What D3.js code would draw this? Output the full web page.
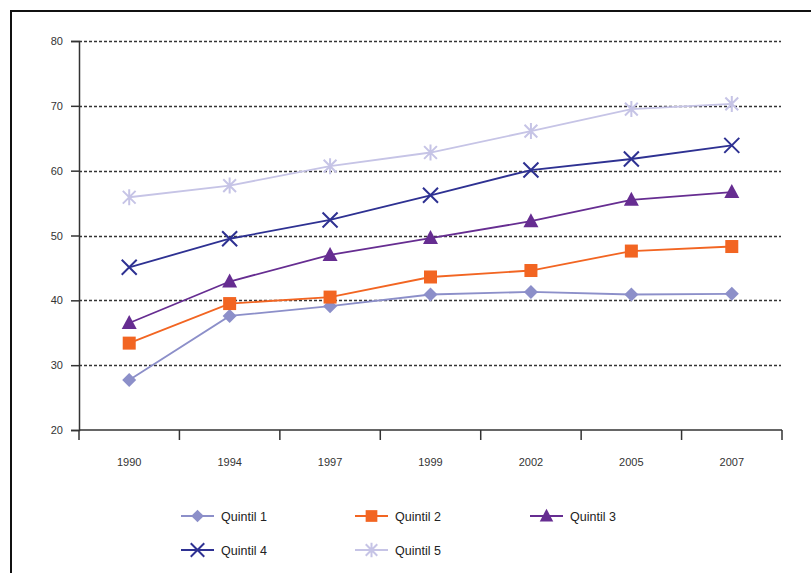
<!DOCTYPE html>
<html>
<head>
<meta charset="utf-8">
<script src="https://cdn.jsdelivr.net/npm/d3@7"></script>
<style>
  html, body { margin: 0; padding: 0; background: #fff; }
  svg { display: block; font-family: "Liberation Sans", Arial, sans-serif; }
</style>
</head>
<body>
<svg id="chart" width="811" height="573"></svg>
<script>
// Survey years on the horizontal axis
const years = ["1990", "1994", "1997", "1999", "2002", "2005", "2007"];
// Percentages by income quintile
const quintil1 = [27.7, 37.6, 39.1, 40.9, 41.3, 40.9, 41.0];
const quintil2 = [33.4, 39.5, 40.5, 43.6, 44.6, 47.6, 48.3];
const quintil3 = [36.5, 42.9, 47.0, 49.6, 52.2, 55.5, 56.7];
const quintil4 = [45.1, 49.5, 52.4, 56.2, 60.1, 61.8, 63.9];
const quintil5 = [55.9, 57.7, 60.7, 62.8, 66.1, 69.5, 70.3];
const seriesNames = ["Quintil 1", "Quintil 2", "Quintil 3", "Quintil 4", "Quintil 5"];
const yTicks = [20, 30, 40, 50, 60, 70, 80];

const seriesValues = [quintil1, quintil2, quintil3, quintil4, quintil5];
const colors = ["#8c8fc9", "#f26522", "#662d91", "#2e3192", "#c6c4e6"];
const shapes = ["diamond", "square", "triangle", "x", "asterisk"];

const svg = d3.select("#chart");

// Frame lines (top and left)
svg.append("line").attr("x1", 10).attr("x2", 811).attr("y1", 11).attr("y2", 11)
  .attr("stroke", "#111").attr("stroke-width", 2);
svg.append("line").attr("x1", 11).attr("x2", 11).attr("y1", 10).attr("y2", 573)
  .attr("stroke", "#111").attr("stroke-width", 2);

const plot = { left: 79, right: 782, top: 41, bottom: 430 };

const x = d3.scaleBand().domain(years).range([plot.left, plot.right]);
const y = d3.scaleLinear().domain([20, 80]).range([plot.bottom, plot.top]);

// Dashed gridlines
svg.append("g").selectAll("line")
  .data(yTicks.filter(t => t > 20))
  .join("line")
  .attr("x1", plot.left).attr("x2", plot.right - 1)
  .attr("y1", d => Math.round(y(d)) + 0.5).attr("y2", d => Math.round(y(d)) + 0.5)
  .attr("stroke", "#333").attr("stroke-width", 1.4)
  .attr("stroke-dasharray", "3,2");

// Y axis
const yAxis = svg.append("g")
  .attr("transform", `translate(${plot.left},0)`)
  .call(d3.axisLeft(y).tickValues(yTicks).tickSize(8).tickPadding(8).tickFormat(d3.format("d")));
yAxis.select(".domain").attr("stroke", "#333").attr("stroke-width", 1.5);
yAxis.selectAll(".tick line").attr("stroke", "#333").attr("stroke-width", 1.5);
yAxis.selectAll("text").attr("font-size", 11).attr("fill", "#333")
  .attr("font-family", "Liberation Sans, Arial, sans-serif");

// X axis: ticks at band boundaries, labels at band centres
const xAxisG = svg.append("g").attr("transform", `translate(0,${plot.bottom})`);
xAxisG.append("line").attr("x1", plot.left).attr("x2", plot.right)
  .attr("stroke", "#333").attr("stroke-width", 1.5);
const boundaries = years.map(d => x(d)).concat([x(years[years.length - 1]) + x.bandwidth()]);
xAxisG.selectAll(".tk").data(boundaries).join("line")
  .attr("class", "tk")
  .attr("x1", d => d).attr("x2", d => d).attr("y1", 0).attr("y2", 10)
  .attr("stroke", "#333").attr("stroke-width", 1.5);
xAxisG.selectAll("text").data(years).join("text")
  .attr("x", d => x(d) + x.bandwidth() / 2)
  .attr("y", 36)
  .attr("text-anchor", "middle")
  .attr("font-size", 11).attr("fill", "#333")
  .text(d => d);

// Marker drawing
function drawMarker(g, shape, color, cx, cy, scale) {
  const s = scale || 1;
  if (shape === "diamond") {
    const r = 7 * s;
    g.append("path").attr("d", `M${cx},${cy - r}L${cx + r},${cy}L${cx},${cy + r}L${cx - r},${cy}Z`)
      .attr("fill", color);
  } else if (shape === "square") {
    const h = 6.5 * s;
    g.append("rect").attr("x", cx - h).attr("y", cy - h).attr("width", 2 * h).attr("height", 2 * h)
      .attr("fill", color);
  } else if (shape === "triangle") {
    const w = 7.5 * s, hh = 8 * s;
    g.append("path").attr("d", `M${cx},${cy - hh}L${cx + w},${cy + hh * 0.75}L${cx - w},${cy + hh * 0.75}Z`)
      .attr("fill", color);
  } else if (shape === "x") {
    const r = 7.5 * s;
    g.append("path").attr("d", `M${cx - r},${cy - r}L${cx + r},${cy + r}M${cx - r},${cy + r}L${cx + r},${cy - r}`)
      .attr("stroke", color).attr("stroke-width", 2).attr("fill", "none");
  } else if (shape === "asterisk") {
    const r = 8 * s;
    g.append("path").attr("d",
      `M${cx - r * 0.8},${cy - r * 0.8}L${cx + r * 0.8},${cy + r * 0.8}` +
      `M${cx - r * 0.8},${cy + r * 0.8}L${cx + r * 0.8},${cy - r * 0.8}` +
      `M${cx},${cy - r}L${cx},${cy + r}`)
      .attr("stroke", color).attr("stroke-width", 2).attr("fill", "none");
  }
}

const line = d3.line()
  .x((d, i) => x(years[i]) + x.bandwidth() / 2)
  .y(d => y(d));

// Series lines and markers
seriesValues.forEach((vals, si) => {
  const g = svg.append("g");
  g.append("path").datum(vals).attr("d", line)
    .attr("fill", "none").attr("stroke", colors[si]).attr("stroke-width", 1.8);
  vals.forEach((v, i) => {
    drawMarker(g, shapes[si], colors[si], x(years[i]) + x.bandwidth() / 2, y(v));
  });
});

// Legend
const legendPos = [
  { lx: 181, ly: 516 }, { lx: 355, ly: 516 }, { lx: 530, ly: 516 },
  { lx: 181, ly: 550 }, { lx: 355, ly: 550 }
];
seriesNames.forEach((name, si) => {
  const p = legendPos[si];
  const g = svg.append("g");
  g.append("line").attr("x1", p.lx).attr("x2", p.lx + 33).attr("y1", p.ly).attr("y2", p.ly)
    .attr("stroke", colors[si]).attr("stroke-width", 2);
  drawMarker(g, shapes[si], colors[si], p.lx + 16.5, p.ly, 0.9);
  g.append("text").attr("x", p.lx + 40).attr("y", p.ly + 4.5)
    .attr("font-size", 12.5).attr("fill", "#222").text(name);
});
</script>
</body>
</html>
